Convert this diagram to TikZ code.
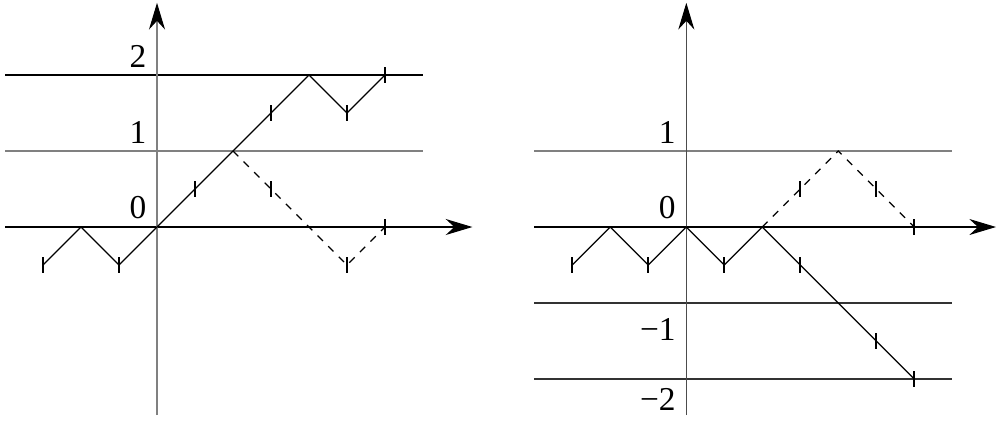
\documentclass[tikz,border=0pt]{standalone}
\usepackage{fontspec}
\setmainfont{Liberation Serif}
\usetikzlibrary{arrows.meta}

\begin{document}
\begin{tikzpicture}[x=0.5cm,y=0.5cm]
    % Define styles
    \tikzstyle{axis} = [draw, line width=0.4pt, -{Stealth[length=10pt,width=6pt,color=black]}]
    \tikzstyle{level} = [draw, line width=0.4pt]
    \tikzstyle{walk} = [draw, line width=0.45pt]
    \tikzstyle{mirror} = [walk, dash pattern=on 2.8pt off 2.8pt]
    \tikzstyle{tick} = [draw, line width=0.8pt]
    \tikzstyle{lab} = [inner sep=0pt, font=\fontsize{12.5}{14}\selectfont]

    \useasboundingbox (-4.132,-5.132) rectangle (22.132,5.974);

    % Left picture
    \path [level] (-4,4) -- (7,4);
    \path [level, gray] (-4,2) -- (7,2);
    \path [axis] (-4,0) -- (8.3,0);
    \path [axis, gray] (0,-4.95) -- (0,5.9);

    \node [lab, anchor=south east] (ltwo) at (-0.27,4.19) {2};
    \node [lab, anchor=south east] (lone) at (-0.27,2.19) {1};
    \node [lab, anchor=south east] (lzero) at (-0.27,0.19) {0};

    \path [walk] (-3,-1) -- (-2,0) -- (-1,-1) -- (0,0) -- (4,4) -- (5,3) -- (6,4);
    \path [mirror] (2,2) -- (5,-1) -- (6,0);
    \foreach \p in {(-3,-1),(-1,-1),(1,1),(3,3),(5,3),(6,4),(3,1),(5,-1),(6,0)}
        \path [tick] \p ++(0,-0.2) -- ++(0,0.4);

    % Right picture
    \begin{scope}[xshift=13.93*0.5cm]
    \path [level, gray] (-4,2) -- (7,2);
    \path [level, black!80] (-4,-2) -- (7,-2);
    \path [level, black!80] (-4,-4) -- (7,-4);
    \path [axis] (-4,0) -- (8.15,0);
    \path [axis, black!70] (0,-4.95) -- (0,5.9);

    \node [lab, anchor=south east] (rone) at (-0.27,2.19) {1};
    \node [lab, anchor=south east] (rzero) at (-0.27,0.19) {0};
    \node [lab, anchor=north east] (rmone) at (-0.27,-2.39) {−1};
    \node [lab, anchor=north east] (rmtwo) at (-0.27,-4.24) {−2};

    \path [walk] (-3,-1) -- (-2,0) -- (-1,-1) -- (0,0) -- (1,-1) -- (2,0) -- (6,-4);
    \path [mirror] (2,0) -- (4,2) -- (6,0);
    \foreach \p in {(-3,-1),(-1,-1),(1,-1),(3,-1),(5,-3),(6,-4),(3,1),(5,1),(6,0)}
        \path [tick] \p ++(0,-0.2) -- ++(0,0.4);
    \end{scope}
\end{tikzpicture}
\end{document}
